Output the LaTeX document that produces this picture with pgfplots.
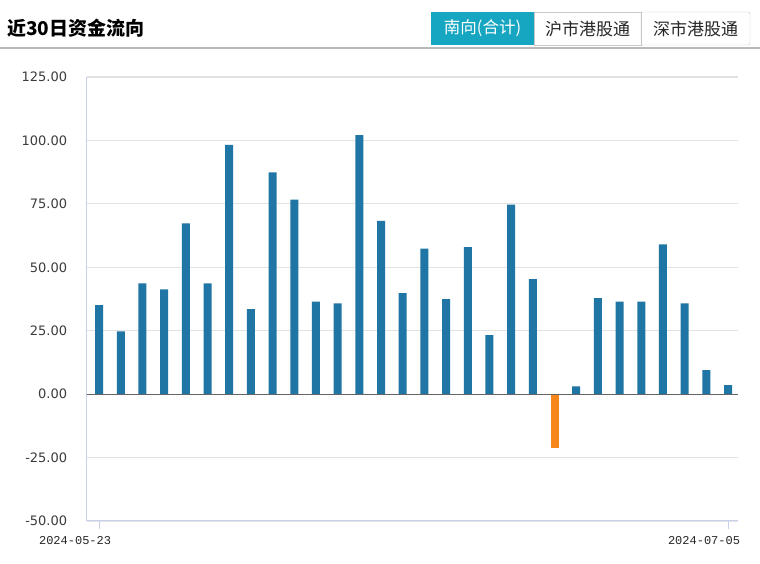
\documentclass[border=0pt]{standalone}
\usepackage{pgfplots}
\pgfplotsset{compat=1.18}
\usepackage{fontspec}
\setmainfont{DejaVu Sans}
\newfontfamily\cjk{Noto Sans CJK SC}
\newfontfamily\datefont{Liberation Mono}

\definecolor{barblue}{RGB}{31,117,163}
\definecolor{barorange}{RGB}{247,135,26}
\definecolor{gridgray}{RGB}{226,226,226}
\definecolor{axisblue}{RGB}{200,208,236}
\definecolor{zerogray}{RGB}{100,100,100}
\definecolor{labelgray}{RGB}{60,60,60}
\definecolor{btnteal}{RGB}{23,166,193}
\definecolor{btnborder}{RGB}{200,200,200}
\definecolor{sepgray}{RGB}{185,185,185}

\begin{document}
\begin{tikzpicture}
\path[fill=white] (0,0) rectangle (760pt,564pt);

% header
\node[anchor=west, font=\cjk\bfseries\fontsize{19}{19}\selectfont, inner sep=0pt] at (7pt,536pt) {近30日资金流向};
\fill[btnteal] (431pt,552pt) rectangle (534pt,519pt);
\draw[btnborder] (534pt,552pt) rectangle (641pt,519pt);
\draw[btnborder, rounded corners=2pt] (641pt,552pt) rectangle (750pt,519pt);
\node[font=\cjk\fontsize{16.5}{16.5}\selectfont, text=white] at (482.5pt,535.5pt) {南向(合计)};
\node[font=\cjk\fontsize{17}{17}\selectfont, text=black!85] at (587.5pt,535.5pt) {沪市港股通};
\node[font=\cjk\fontsize{17}{17}\selectfont, text=black!85] at (695.5pt,535.5pt) {深市港股通};
\draw[sepgray, line width=1.2pt] (0,516pt) -- (760pt,516pt);

\begin{axis}[
  at={(86.7pt,43pt)}, anchor=south west,
  scale only axis, width=651.3pt, height=444pt,
  xmin=-0.57, xmax=29.46, ymin=-50, ymax=125,
  axis x line*=bottom, axis y line*=left,
  axis line style={-, draw=axisblue, line width=1pt},
  ytick={-50,-25,...,125},
  ytick style={draw=none},
  ymajorgrids, grid style={gridgray, line width=1.2pt},
  /pgf/number format/.cd, fixed, fixed zerofill, precision=2, assume math mode=true,
  /pgfplots/.cd,
  yticklabel style={font=\fontsize{13}{13}\selectfont, text=labelgray, xshift=-8pt},
  xtick={0,29},
  xticklabels={2024-05-23,2024-07-05},
  tick align=outside, major tick length=8pt,
  x tick style={draw=axisblue, line width=1pt},
  xticklabel style={font=\datefont\fontsize{12}{12}\selectfont, text=black!85, xshift=-24pt, yshift=-4pt},
]
\addplot[ybar, bar shift=0pt, bar width=8pt, fill=barblue, draw=none] coordinates {
  (0,35.1) (1,24.7) (2,43.7) (3,41.3) (4,67.3) (5,43.7) (6,98.2) (7,33.5)
  (8,87.4) (9,76.7) (10,36.5) (11,35.8) (12,102.1) (13,68.3) (14,39.8)
  (15,57.4) (16,37.4) (17,57.9) (18,23.3) (19,74.7) (20,45.3)
  (22,3.1) (23,37.8) (24,36.5) (25,36.5) (26,59.0) (27,35.8) (28,9.5) (29,3.6)
};
\addplot[ybar, bar shift=0pt, bar width=8pt, fill=barorange, draw=none] coordinates {
  (21,-21.3)
};
\draw[zerogray, line width=1pt] (axis cs:-0.57,0) -- (axis cs:29.46,0);
\end{axis}
\pgfresetboundingbox
\useasboundingbox (0,0) rectangle (760pt,564pt);
\end{tikzpicture}
\end{document}
